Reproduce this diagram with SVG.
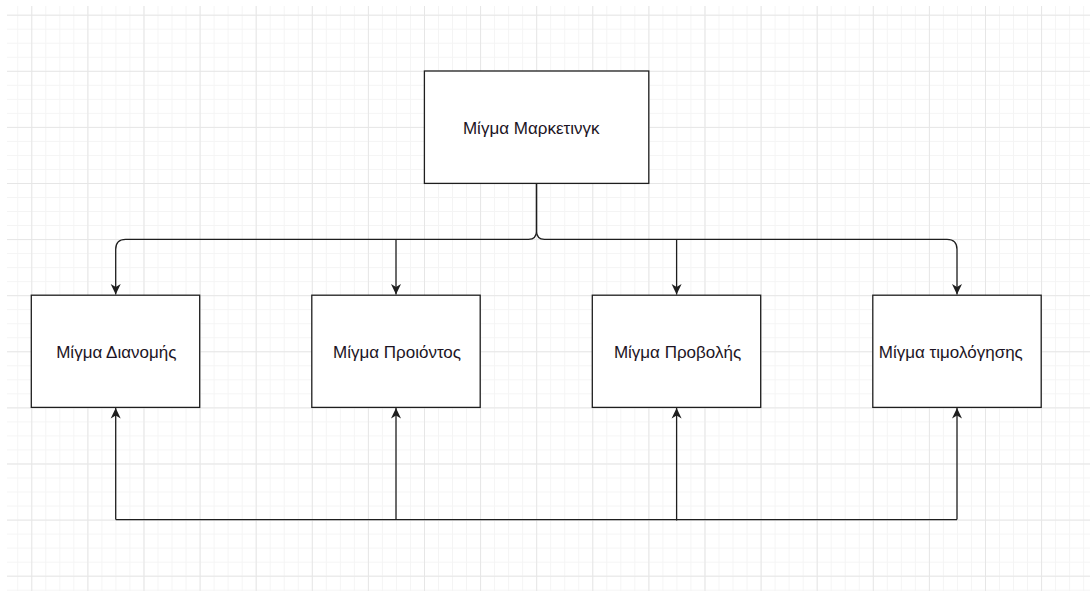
<svg xmlns="http://www.w3.org/2000/svg" width="1090" height="591" viewBox="0 0 1090 591">
<style>
.box{fill:#ffffff;stroke:#1e1e1e;stroke-width:1.3}
.lbl{font-family:"Liberation Sans",Arial,sans-serif;font-size:17px;fill:#1c1424;text-anchor:middle}
.edge{fill:none;stroke:#1e1e1e;stroke-width:1.3}
</style>
<defs>
<pattern id="minor" patternUnits="userSpaceOnUse" x="3.25" y="0.675" width="14.025" height="14.025">
<path d="M0.5,0 V14.025 M0,0.5 H14.025" stroke="#f4f4f4" stroke-width="1" fill="none"/>
</pattern>
<pattern id="major" patternUnits="userSpaceOnUse" x="31.3" y="14.7" width="56.1" height="56.1">
<path d="M0.5,0 V56.1 M0,0.5 H56.1" stroke="#e6e6e6" stroke-width="1" fill="none"/>
</pattern>
<marker id="arr" markerUnits="userSpaceOnUse" markerWidth="14" markerHeight="14" viewBox="-12 -7 14 14" refX="0" refY="0" orient="auto">
<path d="M0,0 L-10.5,-5 L-7.5,0 L-10.5,5 Z" fill="#1e1e1e"/>
</marker>
</defs>
<rect width="1090" height="591" fill="#ffffff"/>
<rect x="7" y="6" width="1083" height="585" fill="url(#minor)"/>
<rect x="7" y="6" width="1083" height="585" fill="url(#major)"/>
<g id="connectors">
<path class="edge" d="M536.5,183.4 V231 Q536.5,239.3 528.5,239.3 H125.7 Q115.7,239.3 115.7,249.3 V294.6" marker-end="url(#arr)"/>
<path class="edge" d="M536.5,183.4 V231 Q536.5,239.3 544.5,239.3 H947 Q957,239.3 957,249.3 V294.6" marker-end="url(#arr)"/>
<path class="edge" d="M396,239.3 V294.6" marker-end="url(#arr)"/>
<path class="edge" d="M676.6,239.3 V294.6" marker-end="url(#arr)"/>
<path class="edge" d="M115.7,519.6 H957"/>
<path class="edge" d="M115.7,519.6 V408" marker-end="url(#arr)"/>
<path class="edge" d="M396,519.6 V408" marker-end="url(#arr)"/>
<path class="edge" d="M676.6,520.5 V408" marker-end="url(#arr)"/>
<path class="edge" d="M957,519.6 V408" marker-end="url(#arr)"/>
</g>
<g id="node-marketing">
<rect class="box" x="424.4" y="71" width="224.4" height="112.4"/>
<text class="lbl" x="531.2" y="134">Μίγμα Μαρκετινγκ</text>
</g>
<g id="node-dianomi">
<rect class="box" x="31.3" y="295.2" width="168.4" height="112.2"/>
<text class="lbl" x="116.3" y="357.5">Μίγμα Διανομής</text>
</g>
<g id="node-proion">
<rect class="box" x="311.8" y="295.2" width="168.4" height="112.2"/>
<text class="lbl" x="397" y="357.5">Μίγμα Προιόντος</text>
</g>
<g id="node-provoli">
<rect class="box" x="592.3" y="295.2" width="168.4" height="112.2"/>
<text class="lbl" x="677.5" y="357.5">Μίγμα Προβολής</text>
</g>
<g id="node-timologisi">
<rect class="box" x="872.8" y="295.2" width="168.4" height="112.2"/>
<text class="lbl" x="950.8" y="357.5">Μίγμα τιμολόγησης</text>
</g>
</svg>
